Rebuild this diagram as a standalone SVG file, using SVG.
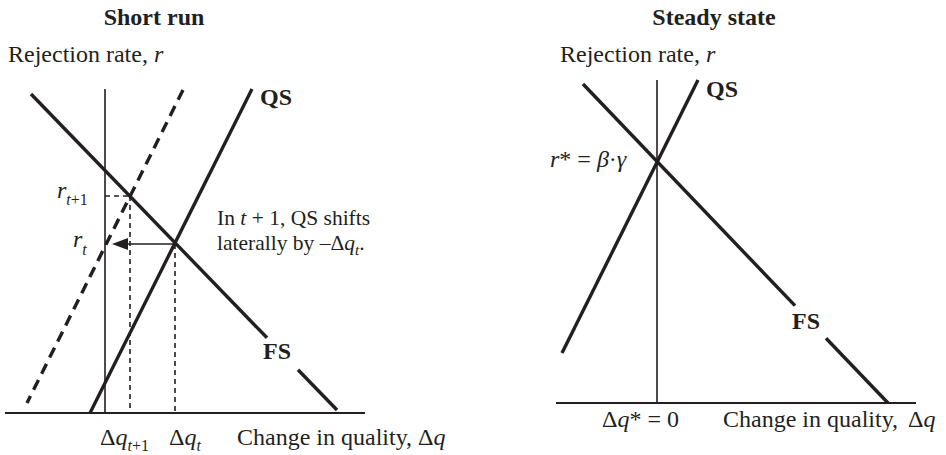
<svg xmlns="http://www.w3.org/2000/svg" width="946" height="455" viewBox="0 0 946 455">
<style>
text{font-family:"Liberation Serif","Times New Roman",serif;fill:#231f20}
.t{font-size:24px;font-weight:bold}
.l{font-size:24px}
.a{font-size:21.5px}
.b{font-size:24px;font-weight:bold}
.i{font-style:italic}
.s{font-size:16px}
.ax{stroke:#231f20;stroke-width:2;fill:none}
.vx{stroke:#231f20;stroke-width:1.6;fill:none}
.th{stroke:#231f20;stroke-width:3.4;fill:none}
.td{stroke:#231f20;stroke-width:3.4;fill:none;stroke-dasharray:11 7}
.dd{stroke:#231f20;stroke-width:1.6;fill:none;stroke-dasharray:5 4}
</style>
<defs>
<marker id="ah" viewBox="0 0 16 12" refX="0" refY="6" markerWidth="16" markerHeight="12" markerUnits="userSpaceOnUse" orient="auto">
<path d="M0,0 L16,6 L0,12 Z" fill="#231f20"/>
</marker>
</defs>
<g id="short-run">
<text class="t" x="154" y="25" text-anchor="middle">Short run</text>
<text class="l" x="8" y="62">Rejection rate, <tspan class="i">r</tspan></text>
<line class="ax" x1="5" y1="413" x2="365" y2="413"/>
<line class="vx" x1="105" y1="89" x2="105" y2="413"/>
<line class="td" x1="183" y1="90" x2="27" y2="403"/>
<line class="th" x1="252" y1="89" x2="90" y2="413"/>
<line class="th" x1="31" y1="94" x2="267" y2="337.8"/>
<line class="th" x1="298" y1="369.8" x2="337" y2="410"/>
<text class="b" x="260" y="105">QS</text>
<text class="b" x="263" y="359">FS</text>
<line class="dd" x1="105" y1="196" x2="130" y2="196"/>
<line class="dd" x1="130" y1="196" x2="130" y2="413"/>
<line class="dd" x1="175" y1="244" x2="175" y2="413"/>
<text class="l" x="57" y="198"><tspan class="i">r</tspan><tspan class="s i" dy="7">t</tspan><tspan class="s">+1</tspan></text>
<text class="l" x="73" y="247"><tspan class="i">r</tspan><tspan class="s i" dy="8">t</tspan></text>
<text class="a" x="217" y="225">In <tspan class="i">t</tspan> + 1, QS shifts</text>
<text class="a" x="217" y="250">laterally by –Δ<tspan class="i">q</tspan><tspan class="i" font-size="15" dy="5">t</tspan><tspan dy="-5">.</tspan></text>
<text class="l" x="100" y="445">Δ<tspan class="i">q</tspan><tspan class="s i" dy="6">t</tspan><tspan class="s">+1</tspan></text>
<text class="l" x="169" y="445">Δ<tspan class="i">q</tspan><tspan class="s i" dy="6">t</tspan></text>
<text class="l" x="237" y="445">Change in quality, Δ<tspan class="i">q</tspan></text>
</g>
<g id="connectors">
<line stroke="#231f20" stroke-width="1.6" x1="175" y1="244" x2="128" y2="244" marker-end="url(#ah)"/>
</g>
<g id="steady-state">
<text class="t" x="714" y="25" text-anchor="middle">Steady state</text>
<text class="l" x="560" y="62">Rejection rate, <tspan class="i">r</tspan></text>
<line class="ax" x1="556" y1="403" x2="916" y2="403"/>
<line class="vx" x1="657" y1="80" x2="657" y2="403"/>
<line class="th" x1="698" y1="80" x2="562" y2="353"/>
<line class="th" x1="583" y1="84" x2="795" y2="305.7"/>
<line class="th" x1="826" y1="338.2" x2="888" y2="403"/>
<text class="b" x="706" y="97">QS</text>
<text class="b" x="792" y="329">FS</text>
<text class="l" x="550" y="167"><tspan class="i">r</tspan>* = <tspan class="i">β</tspan>·<tspan class="i">γ</tspan></text>
<text class="l" x="602" y="427">Δ<tspan class="i">q</tspan>* = 0</text>
<text class="l" x="723" y="427">Change in quality,<tspan x="908">Δ</tspan><tspan class="i">q</tspan></text>
</g>
</svg>
